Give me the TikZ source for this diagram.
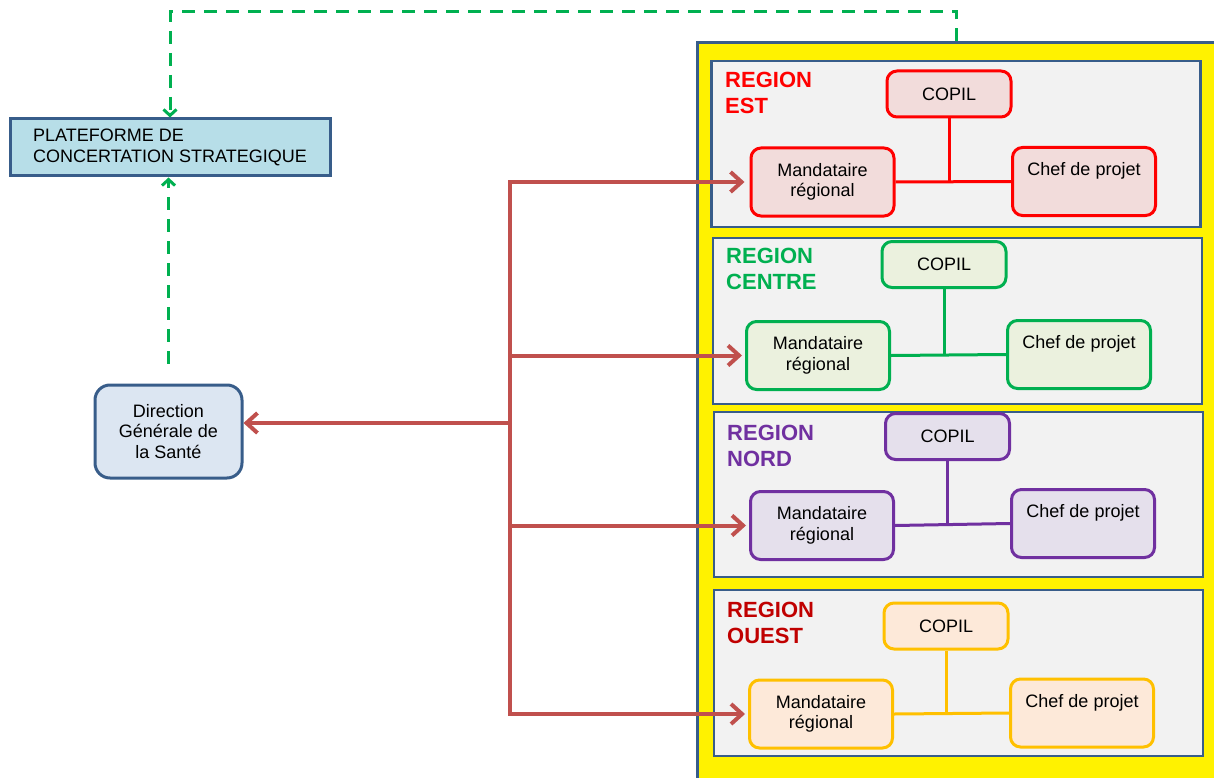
\documentclass[tikz,border=0pt]{standalone}
\usepackage{fontspec}
\setmainfont{Liberation Sans}
\usetikzlibrary{arrows.meta,positioning}

\definecolor{cadreblue}{HTML}{385D8A}
\definecolor{zonegray}{HTML}{F2F2F2}
\definecolor{platfill}{HTML}{B7DEE8}
\definecolor{dgsfill}{HTML}{DCE6F2}
\definecolor{arrred}{HTML}{C0504D}
\definecolor{dashgreen}{HTML}{00B050}
\definecolor{estred}{HTML}{FF0000}
\definecolor{estfill}{HTML}{F2DCDB}
\definecolor{centregreen}{HTML}{00B050}
\definecolor{centrefill}{HTML}{EBF1DE}
\definecolor{nordpurple}{HTML}{7030A0}
\definecolor{nordfill}{HTML}{E5E0EC}
\definecolor{ouestgold}{HTML}{FFC000}
\definecolor{ouestfill}{HTML}{FDE9D9}
\definecolor{ouestlbl}{HTML}{C00000}

\begin{document}
\begin{tikzpicture}[
      x=1pt,y=-1pt,
      every node/.style={font=\fontsize{18}{20.5}\selectfont},
      box/.style={draw,rounded corners=10pt,line width=3pt,align=center,
                  minimum width=143pt,minimum height=68pt,inner sep=0pt},
      copil/.style={box,minimum width=124pt,minimum height=46pt},
      zone/.style={draw=cadreblue,fill=zonegray,line width=2.5pt,
                   minimum width=489pt,minimum height=166pt,inner sep=0pt},
      regionlbl/.style={anchor=north west,inner sep=0pt,align=left,
                        font=\fontsize{22}{26}\selectfont\bfseries},
      est/.style={draw=estred,fill=estfill},
      centre/.style={draw=centregreen,fill=centrefill},
      nord/.style={draw=nordpurple,fill=nordfill},
      ouest/.style={draw=ouestgold,fill=ouestfill},
      link/.style={line width=3pt},
      redarr/.style={draw=arrred,line width=4pt,
                     -{Straight Barb[length=11pt,width=20pt]}},
      greendash/.style={draw=dashgreen,line width=3pt,dash pattern=on 13pt off 9pt,
                        -{Straight Barb[length=6pt,width=13pt]}},
    ]
      \useasboundingbox (0,0) rectangle (1214,778);

      % left side
      \node[draw=cadreblue,fill=platfill,line width=3pt,align=left,
            minimum width=320pt,minimum height=57pt,inner sep=0pt]
            (plateforme) at (170,147.5) {PLATEFORME DE\\CONCERTATION STRATEGIQUE};
      \node[draw=cadreblue,fill=dgsfill,line width=3pt,rounded corners=15pt,align=center,
            minimum width=147pt,minimum height=93pt,inner sep=0pt]
            (dgs) at (168.5,431.5) {Direction\\G\'en\'erale de\\la Sant\'e};

      % yellow frame
      \node[draw=cadreblue,fill=yellow,line width=3pt,minimum width=519pt,
            minimum height=737pt,inner sep=0pt] (cadre) at (956.5,411.5) {};

      % region est
      \node[zone] (estzone) at (956,144) {};
      \node[regionlbl,text=estred] (estlbl) at (725,72) {REGION\\EST};
      \node[copil,est] (estcopil) at (949,94) {COPIL};
      \node[box,est] (estmand) at (822.5,182) {Mandataire\\r\'egional};
      \node[box,est] (estchef) at (1084,181.5) {Chef de projet\\\phantom{r\'egional}};
      \draw[link,estred] (estcopil.south) -- (estcopil.south |- estmand.east);
      \draw[link,estred] (estmand.east) -- (estchef.west);

      % region centre
      \node[zone] (centrezone) at (957.5,321) {};
      \node[regionlbl,text=centregreen] (centrelbl) at (726,248) {REGION\\CENTRE};
      \node[copil,centre] (centrecopil) at (944,264.5) {COPIL};
      \node[box,centre] (centremand) at (818,355.5) {Mandataire\\r\'egional};
      \node[box,centre] (centrechef) at (1079,354.5) {Chef de projet\\\phantom{r\'egional}};
      \draw[link,centregreen] (centrecopil.south) -- (centrecopil.south |- centremand.east);
      \draw[link,centregreen] (centremand.east) -- (centrechef.west);

      % region nord
      \node[zone,minimum height=165pt] (nordzone) at (958.5,494.5) {};
      \node[regionlbl,text=nordpurple] (nordlbl) at (727,425) {REGION\\NORD};
      \node[copil,nord] (nordcopil) at (947.5,436.5) {COPIL};
      \node[box,nord] (nordmand) at (822,525.5) {Mandataire\\r\'egional};
      \node[box,nord] (nordchef) at (1083,523.5) {Chef de projet\\\phantom{r\'egional}};
      \draw[link,nordpurple] (nordcopil.south) -- (nordcopil.south |- nordmand.east);
      \draw[link,nordpurple] (nordmand.east) -- (nordchef.west);

      % region ouest
      \node[zone] (ouestzone) at (958.5,673) {};
      \node[regionlbl,text=ouestlbl] (ouestlbl) at (727,602) {REGION\\OUEST};
      \node[copil,ouest] (ouestcopil) at (946,626) {COPIL};
      \node[box,ouest] (ouestmand) at (821,714) {Mandataire\\r\'egional};
      \node[box,ouest] (ouestchef) at (1082,713) {Chef de projet\\\phantom{r\'egional}};
      \draw[link,ouestgold] (ouestcopil.south) -- (ouestcopil.south |- ouestmand.east);
      \draw[link,ouestgold] (ouestmand.east) -- (ouestchef.west);

      % red links
      \coordinate (jn) at (510,423);
      \draw[arrred,line width=4pt,line cap=rect] (jn |- estmand.west) -- (jn |- ouestmand.west);
      \draw[redarr] (jn) -- (jn -| dgs.east);
      \draw[redarr,shorten >=5pt] (jn |- estmand.west) -- (estmand.west);
      \draw[redarr,shorten >=3pt] (jn |- centremand.west) -- (centremand.west);
      \draw[redarr,shorten >=3pt] (jn |- nordmand.west) -- (nordmand.west);
      \draw[redarr,shorten >=3pt] (jn |- ouestmand.west) -- (ouestmand.west);

      % green dashed links
      \draw[greendash] (cadre.north) -- ++(0,-30) -| (plateforme.north);
      \draw[greendash,shorten <=20pt] (dgs.north) -- (dgs.north |- plateforme.south);
    \end{tikzpicture}
\end{document}
